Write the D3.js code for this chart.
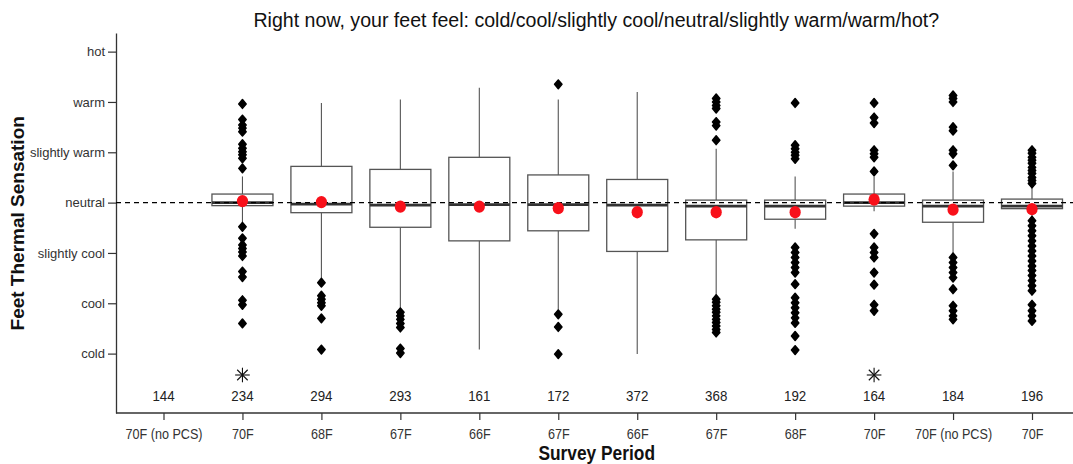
<!DOCTYPE html>
<html>
<head>
<meta charset="utf-8">
<script src="https://cdn.jsdelivr.net/npm/d3@7"></script>
<style>
  html, body { margin: 0; padding: 0; background: #fff; }
  svg { display: block; font-family: "Liberation Sans", Arial, sans-serif; }
</style>
</head>
<body>
<svg id="chart" width="1073" height="464"></svg>
<script>
// Survey periods (set-points) in order of collection
const categories = ["70F (no PCS)", "70F", "68F", "67F", "66F", "67F", "66F", "67F", "68F", "70F", "70F (no PCS)", "70F"];
// Number of responses per period
const counts = [144, 234, 294, 293, 161, 172, 372, 368, 192, 164, 184, 196];
// Periods flagged as significantly different
const flagged = [false, true, false, false, false, false, false, false, false, true, false, false];
// Scale labels, cold (-3) .. hot (+3)
const sensationLabels = ["cold", "cool", "slightly cool", "neutral", "slightly warm", "warm", "hot"];

// Box statistics per period (null = no responses to this question)
const q1 =          [null, -0.06, -0.20, -0.49, -0.76, -0.56, -0.97, -0.74, -0.33, -0.07, -0.39, -0.12];
const medians =     [null,  0.00, -0.03, -0.05, -0.04, -0.04, -0.05, -0.07, -0.07,  0.00, -0.07, -0.07];
const q3 =          [null,  0.17,  0.72,  0.66,  0.90,  0.55,  0.46,  0.05,  0.05,  0.17,  0.05,  0.07];
const whiskerLow =  [null, -0.40, -1.50, -2.15, -2.92, -2.15, -3.01, -1.87, -0.52, -0.17, -1.02, -0.29];
const whiskerHigh = [null,  0.52,  1.98,  2.05,  2.28,  2.05,  2.20,  1.07,  0.52,  0.52,  0.62,  0.30];
const means =       [null,  0.03,  0.01, -0.08, -0.08, -0.11, -0.19, -0.19, -0.19,  0.06, -0.14, -0.13];
const outliers = [
  [],
  [1.96, 1.65, 1.54, 1.48, 1.41, 1.16, 1.08, 1.01, 0.95, 0.88, 0.68,
   -0.48, -0.71, -0.84, -0.91, -0.98, -1.06, -1.37, -1.48, -1.94, -2.03, -2.40],
  [-1.59, -1.85, -1.92, -1.99, -2.05, -2.30, -2.92],
  [-2.18, -2.25, -2.32, -2.40, -2.48, -2.90, -2.99],
  [],
  [2.35, -2.22, -2.47, -3.01],
  [],
  [2.07, 2.00, 1.93, 1.87, 1.60, 1.53, 1.24,
   -1.92, -1.98, -2.05, -2.12, -2.18, -2.25, -2.32, -2.38, -2.45, -2.52, -2.58],
  [1.98, 1.14, 1.07, 1.00, 0.94, 0.87,
   -0.89, -0.99, -1.09, -1.19, -1.29, -1.39, -1.62, -1.89, -1.99, -2.09, -2.19, -2.29, -2.39, -2.65, -2.93],
  [1.98, 1.69, 1.58, 1.04, 0.97, 0.90, 0.62,
   -0.62, -0.89, -0.99, -1.09, -1.39, -1.63, -2.03, -2.15],
  [2.13, 2.07, 2.00, 1.50, 1.43, 1.04, 0.97, 0.74,
   -1.09, -1.19, -1.29, -1.39, -1.49, -1.72, -2.05, -2.15, -2.25, -2.32],
  [1.04, 0.98, 0.90, 0.84, 0.78, 0.70, 0.64, 0.58, 0.50, 0.44, 0.38,
   -0.36, -0.46, -0.56, -0.66, -0.76, -0.86, -0.96, -1.06, -1.16, -1.26, -1.35, -1.45, -1.55, -1.65, -1.75,
   -2.03, -2.15, -2.25, -2.35]
];

(function draw() {
  const svg = d3.select("#chart");
  const plotLeft = 116, plotRight = 1073, plotTop = 33, plotBottom = 413;
  const boxHalf = 30.5;

  const x = d3.scalePoint().domain(d3.range(categories.length)).range([163.5, 1032]);
  const y = d3.scaleLinear().domain([-4.18, 3.37]).range([plotBottom, plotTop]);

  // Title
  svg.append("text")
    .attr("transform", "translate(596.3,26.7) scale(0.933,1)")
    .attr("text-anchor", "middle")
    .attr("font-size", 21)
    .attr("fill", "#111")
    .text("Right now, your feet feel: cold/cool/slightly cool/neutral/slightly warm/warm/hot?");

  // Y axis
  const yAxis = svg.append("g")
    .attr("transform", `translate(${plotLeft},0)`)
    .call(d3.axisLeft(y)
      .tickValues(d3.range(-3, 4))
      .tickFormat(v => sensationLabels[v + 3])
      .tickSize(8)
      .tickSizeOuter(0)
      .tickPadding(3));
  yAxis.select(".domain").attr("stroke", "#333").attr("stroke-width", 1.3);
  yAxis.selectAll(".tick line").attr("stroke", "#333").attr("stroke-width", 1.2);
  yAxis.selectAll(".tick text")
    .attr("font-size", 13)
    .attr("font-family", "Liberation Sans, Arial, sans-serif")
    .attr("fill", "#333");

  // X axis
  const xAxis = svg.append("g")
    .attr("transform", `translate(0,${plotBottom})`)
    .call(d3.axisBottom(x)
      .tickFormat(i => categories[i])
      .tickSize(7)
      .tickSizeOuter(0));
  xAxis.select(".domain").remove();
  xAxis.append("line")
    .attr("x1", plotLeft).attr("x2", plotRight)
    .attr("y1", 0).attr("y2", 0)
    .attr("stroke", "#333").attr("stroke-width", 1.3);
  xAxis.selectAll(".tick line").attr("stroke", "#333").attr("stroke-width", 1.2);
  xAxis.selectAll(".tick text")
    .attr("y", null).attr("dy", null)
    .attr("transform", "translate(0,26.3) scale(0.87,1)")
    .attr("font-size", 14.5)
    .attr("font-family", "Liberation Sans, Arial, sans-serif")
    .attr("fill", "#333");

  // Axis titles
  svg.append("text")
    .attr("transform", "translate(596.7,460) scale(0.89,1)")
    .attr("text-anchor", "middle")
    .attr("font-size", 19.5)
    .attr("font-weight", "bold")
    .attr("fill", "#111")
    .text("Survey Period");

  svg.append("text")
    .attr("transform", "translate(24,223.3) rotate(-90)")
    .attr("text-anchor", "middle")
    .attr("font-size", 19)
    .attr("font-weight", "bold")
    .attr("fill", "#111")
    .text("Feet Thermal Sensation");

  // Box plots
  const idx = d3.range(categories.length).filter(i => q1[i] !== null);
  const boxes = svg.append("g");

  boxes.append("g").selectAll("line").data(idx).join("line")
    .attr("x1", i => x(i)).attr("x2", i => x(i))
    .attr("y1", i => y(whiskerLow[i])).attr("y2", i => y(q1[i]))
    .attr("stroke", "#555").attr("stroke-width", 1.1);
  boxes.append("g").selectAll("line").data(idx).join("line")
    .attr("x1", i => x(i)).attr("x2", i => x(i))
    .attr("y1", i => y(q3[i])).attr("y2", i => y(whiskerHigh[i]))
    .attr("stroke", "#555").attr("stroke-width", 1.1);

  boxes.append("g").selectAll("rect").data(idx).join("rect")
    .attr("x", i => x(i) - boxHalf)
    .attr("width", boxHalf * 2)
    .attr("y", i => y(q3[i]))
    .attr("height", i => y(q1[i]) - y(q3[i]))
    .attr("fill", "#fff")
    .attr("stroke", "#555")
    .attr("stroke-width", 1.3);

  boxes.append("g").selectAll("line").data(idx).join("line")
    .attr("x1", i => x(i) - boxHalf).attr("x2", i => x(i) + boxHalf)
    .attr("y1", i => y(medians[i])).attr("y2", i => y(medians[i]))
    .attr("stroke", "#333").attr("stroke-width", 2.6);

  // Neutral reference line
  svg.append("line")
    .attr("x1", plotLeft).attr("x2", plotRight)
    .attr("y1", y(0)).attr("y2", y(0))
    .attr("stroke", "#000").attr("stroke-width", 1.4)
    .attr("stroke-dasharray", "5,4");

  // Outliers (filled, rounded diamonds)
  const diamond = {
    draw(ctx) {
      const w = 3.7, h = 4.4;
      ctx.moveTo(0, -h); ctx.lineTo(w, 0); ctx.lineTo(0, h); ctx.lineTo(-w, 0); ctx.closePath();
    }
  };
  const outlierPts = idx.flatMap(i => outliers[i].map(v => ({ i, v })));
  svg.append("g").selectAll("path").data(outlierPts).join("path")
    .attr("transform", d => `translate(${x(d.i)},${y(d.v)})`)
    .attr("d", d3.symbol(diamond))
    .attr("fill", "#000")
    .attr("stroke", "#000")
    .attr("stroke-width", 1.5)
    .attr("stroke-linejoin", "round");

  // Means
  svg.append("g").selectAll("ellipse").data(idx).join("ellipse")
    .attr("cx", i => x(i)).attr("cy", i => y(means[i]))
    .attr("rx", 5.6).attr("ry", 6.2)
    .attr("fill", "#f8101a");

  // Response counts
  svg.append("g").selectAll("text").data(counts).join("text")
    .attr("transform", (d, i) => `translate(${x(i)},400.7) scale(0.86,1)`)
    .attr("text-anchor", "middle")
    .attr("font-size", 15.5)
    .attr("fill", "#222")
    .text(d => d);

  // Significance asterisks
  const starIdx = d3.range(categories.length).filter(i => flagged[i]);
  const starG = svg.append("g").selectAll("g").data(starIdx).join("g")
    .attr("transform", i => `translate(${x(i)},375)`);
  const r = 7.3;
  [[0, -r, 0, r], [-r, 0, r, 0], [-r * 0.72, -r * 0.72, r * 0.72, r * 0.72], [-r * 0.72, r * 0.72, r * 0.72, -r * 0.72]]
    .forEach(s => {
      starG.append("line")
        .attr("x1", s[0]).attr("y1", s[1]).attr("x2", s[2]).attr("y2", s[3])
        .attr("stroke", "#111").attr("stroke-width", 1.1);
    });
})();
</script>
</body>
</html>
